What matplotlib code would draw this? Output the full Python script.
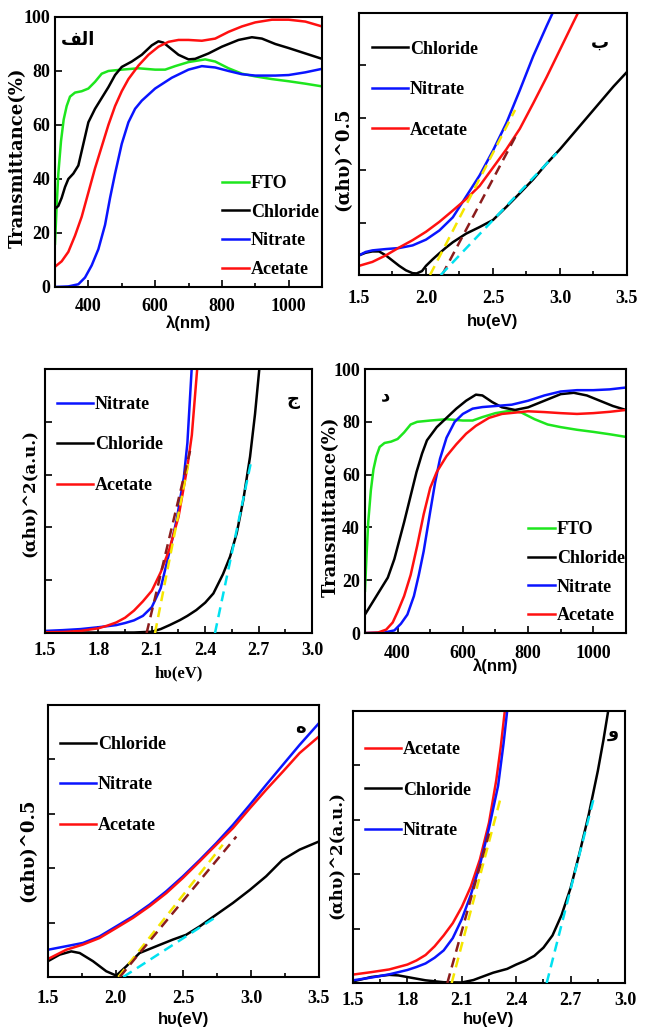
import matplotlib.pyplot as plt
import numpy as np
from matplotlib.ticker import MultipleLocator, NullFormatter

plt.rcParams['font.family'] = ['Liberation Serif', 'DejaVu Serif']
plt.rcParams['font.weight'] = 'bold'

# ---------------- transmittance panels (alef, dal) ----------------
fto_wl = [300, 305, 310, 318, 326, 335, 345, 360, 380, 400, 420, 440, 460, 500, 550, 600,
          630, 660, 700, 750, 780, 820, 860, 900, 950, 1000, 1050, 1100]
fto_t = [16, 30, 42, 54, 62, 67, 70.5, 72, 72.5, 73.5, 76, 79, 80, 80.5, 81, 80.5,
         80.5, 81.8, 83.3, 84.3, 83.5, 81, 79, 78, 77, 76.2, 75.3, 74.3]

a_cl_wl = [300, 310, 320, 330, 340, 355, 370, 385, 400, 420, 440, 460, 480, 500, 530, 560, 590,
           610, 625, 645, 670, 700, 720, 760, 800, 850, 890, 920, 960, 1000, 1050, 1100]
a_cl_t = [29, 30, 33, 37, 40, 42, 45, 53, 61, 66, 70, 74, 78.5, 81.5, 83.5, 86, 89.5,
          91, 90.5, 88.5, 86, 84.3, 84.5, 86.5, 89, 91.5, 92.5, 92, 90, 88.5, 86.5, 84.5]
a_ni_wl = [300, 340, 370, 390, 410, 430, 450, 465, 480, 500, 520, 540, 560, 600, 650, 700,
           740, 780, 820, 860, 900, 960, 1000, 1050, 1100]
a_ni_t = [0, 0.2, 1, 3.5, 8, 14, 23, 33, 42, 53, 61, 66, 69, 73.5, 77.5, 80.5,
          81.8, 81.3, 80, 78.8, 78.3, 78.3, 78.5, 79.5, 80.8]
a_ac_wl = [300, 320, 340, 360, 380, 400, 420, 440, 460, 480, 500, 520, 550, 580, 610, 640, 670,
           700, 740, 780, 820, 860, 900, 950, 1000, 1050, 1100]
a_ac_t = [7.5, 9.5, 13, 19, 26, 35, 44, 52, 60, 67, 72.5, 77, 82, 86, 89, 90.8, 91.5,
          91.5, 91.2, 92, 94.5, 96.5, 98, 99, 99, 98.3, 96.5]

d_cl_wl = [300, 320, 345, 370, 390, 405, 420, 440, 458, 475, 490, 520, 550, 580, 610, 640, 660,
           690, 720, 760, 800, 850, 900, 940, 980, 1020, 1060, 1100]
d_cl_t = [7, 11, 16, 21, 28, 35, 42, 52, 61, 68, 73, 78, 81.5, 85, 88, 90.3, 90,
          87.5, 85.5, 84.5, 85.5, 88, 90.5, 91, 90, 88, 86, 84.5]
d_ni_wl = [300, 360, 390, 410, 430, 450, 465, 480, 500, 515, 530, 550, 575, 600, 630, 660,
           700, 750, 800, 850, 900, 950, 1000, 1050, 1100]
d_ni_t = [0, 0.2, 1, 3.5, 7, 14, 22, 31, 46, 57, 66, 74, 80, 83, 85, 85.6,
          86, 86.5, 88, 90, 91.5, 92, 92, 92.3, 93]
d_ac_wl = [300, 340, 365, 385, 400, 420, 440, 460, 480, 500, 520, 550, 580, 610, 640, 680,
           720, 760, 800, 850, 900, 950, 1000, 1050, 1100]
d_ac_t = [0, 0.2, 1.3, 4, 8, 14, 22, 33, 45, 55, 61, 67, 71.5, 75.5, 78.5, 81.5,
          83, 83.5, 84, 83.7, 83.3, 83, 83.3, 83.8, 84.5]

# ---------------- (ahv)^0.5 panels (be, he) ----------------
b_cl_e = [1.5, 1.55, 1.6, 1.65, 1.7, 1.75, 1.8, 1.85, 1.9, 1.93, 1.97, 2.0, 2.05, 2.1, 2.15, 2.2,
          2.3, 2.4, 2.5, 2.6, 2.7, 2.8, 2.9, 3.0, 3.1, 3.2, 3.3, 3.4, 3.5]
b_cl_v = [7.5, 8.5, 9, 9, 7.5, 5.5, 3.5, 1.8, 0.7, 0.6, 1.5, 3.5, 6, 8.3, 10.5, 12.5,
          15.8, 18.3, 21, 26, 31.2, 36.5, 42.5, 48, 54, 60, 66, 72, 77.5]
b_ni_e = [1.5, 1.55, 1.6, 1.7, 1.8, 1.9, 2.0, 2.1, 2.2, 2.3, 2.4, 2.5, 2.6, 2.7, 2.8, 2.9, 2.945]
b_ni_v = [7.5, 8.8, 9.4, 9.9, 10.3, 11.3, 13.5, 17, 22, 30, 38, 47.5, 58, 70.5, 83.5, 95, 100]
b_ac_e = [1.5, 1.6, 1.7, 1.8, 1.9, 2.0, 2.1, 2.2, 2.3, 2.4, 2.5, 2.6, 2.7, 2.8, 2.9, 3.0, 3.1, 3.134]
b_ac_v = [3.5, 5, 7.5, 10.5, 13.3, 16.5, 20.3, 24.6, 29, 34, 41, 48, 55.8, 65.5, 75.5, 86, 96.5, 100]
b_fit_y = ([2.03, 2.665], [0, 63])
b_fit_r = ([2.12, 2.68], [0, 54])
b_fit_c = ([2.11, 2.975], [0, 46.5])

h_cl_e = [1.5, 1.586, 1.672, 1.734, 1.832, 1.93, 2.004, 2.078, 2.176, 2.3, 2.42, 2.52, 2.62,
          2.742, 2.865, 2.99, 3.11, 3.23, 3.357, 3.5]
h_cl_v = [5.8, 8.2, 9.4, 8.8, 5.8, 2.1, 0.5, 3.9, 8.8, 11.3, 13.7, 15.5, 18.6,
          22.9, 27.2, 32, 37, 43, 46.8, 49.8]
h_ni_e = [1.5, 1.635, 1.758, 1.88, 2.004, 2.127, 2.25, 2.373, 2.496, 2.62, 2.742, 2.865, 2.99,
          3.11, 3.234, 3.357, 3.5]
h_ni_v = [10, 11.3, 12.5, 14.9, 18.6, 22.3, 26.6, 31.5, 37, 43, 49.2, 55.9, 63.3,
          70.6, 78, 85.3, 93.3]
h_ac_e = h_ni_e
h_ac_v = [6.6, 10, 11.9, 14.3, 18, 21.7, 26, 30.8, 36.4, 42.5, 48.6, 54.7, 62,
          68.8, 75.5, 82.3, 88.4]
h_fit_y = ([2.02, 2.79], [0, 48.6])
h_fit_r = ([2.03, 2.89], [0, 51.6])
h_fit_c = ([2.056, 2.745], [0, 22.2])

# ---------------- (ahv)^2 panels (jim, vav) ----------------
j_ni_e = [1.5, 1.6, 1.7, 1.8, 1.9, 1.95, 2.0, 2.05, 2.1, 2.15, 2.2, 2.24, 2.28, 2.3, 2.324]
j_ni_v = [0.8, 1.1, 1.5, 2.2, 3, 3.8, 4.8, 6.5, 9.8, 17, 31, 43, 59, 72, 100]
j_cl_e = [1.5, 1.8, 2.0, 2.1, 2.15, 2.2, 2.258, 2.3, 2.35, 2.4, 2.446, 2.5, 2.54, 2.577, 2.614,
          2.652, 2.68, 2.704]
j_cl_v = [0.2, 0.2, 0.2, 0.5, 1.5, 3, 4.9, 6.5, 8.7, 11.5, 15, 22.3, 29, 37.8, 50.4,
          66.8, 83, 100]
j_ac_e = [1.5, 1.6, 1.7, 1.8, 1.85, 1.9, 1.95, 2.0, 2.05, 2.1, 2.15, 2.2, 2.25, 2.3, 2.325, 2.355]
j_ac_v = [0.3, 0.4, 0.8, 1.8, 2.8, 4, 5.8, 8.5, 12, 16, 23, 32, 44, 63, 75, 100]
j_fit_y = ([2.118, 2.305], [0, 64])
j_fit_r = ([2.071, 2.315], [0, 69])
j_fit_c = ([2.455, 2.655], [0, 64])

v_ac_e = [1.5, 1.6, 1.7, 1.8, 1.85, 1.9, 1.95, 2.0, 2.05, 2.1, 2.15, 2.2, 2.25, 2.29, 2.315, 2.337]
v_ac_v = [3.1, 4, 5, 6.8, 8.3, 10.3, 13.5, 17.5, 22, 28, 35.5, 45.5, 59, 74.6, 87, 100]
v_cl_e = [1.5, 1.6, 1.7, 1.75, 1.8, 1.9, 2.0, 2.1, 2.164, 2.2, 2.273, 2.35, 2.4, 2.45, 2.5, 2.55,
          2.6, 2.65, 2.7, 2.75, 2.8, 2.85, 2.88, 2.907]
v_cl_v = [0.6, 2.2, 3, 2.8, 2.2, 1, 0.3, 0.2, 1.1, 2, 3.8, 5.2, 6.8, 8.2, 10, 13,
          17.5, 25, 35, 48, 62, 78, 89, 100]
v_ni_e = [1.5, 1.6, 1.7, 1.8, 1.85, 1.9, 1.95, 2.0, 2.05, 2.1, 2.15, 2.2, 2.25, 2.3, 2.33, 2.35]
v_ni_v = [1, 2, 3.2, 4.8, 5.9, 7.2, 9.3, 12, 16.5, 23.5, 32.5, 43.5, 57, 72.5, 88, 100]
v_fit_y = ([2.044, 2.311], [0, 67.3])
v_fit_r = ([2.02, 2.25], [0, 55])
v_fit_c = ([2.568, 2.825], [0, 67.3])

GREEN, BLACK, BLUE, RED = '#1ee61e', 'black', '#0a14ff', '#ff1010'
YEL, BRN, CYA = '#f5e600', '#8b1c1c', '#00e1f0'
LW = 1.8
SERIF = 'Liberation Serif'
SANS = 'Liberation Sans'

fig = plt.figure(figsize=(6.5, 10.3), dpi=100)


def style(ax, xpad, ylabels=True):
    for s in ax.spines.values():
        s.set_linewidth(1.5)
    ax.tick_params(which='both', direction='in', top=False, right=False, width=1.2)
    ax.tick_params(which='major', length=5)
    ax.tick_params(which='minor', length=3)
    ax.tick_params(axis='x', pad=xpad, labelsize=13)
    ax.tick_params(axis='y', pad=3.5, labelsize=13)
    if not ylabels:
        ax.yaxis.set_major_formatter(NullFormatter())


def fits(ax, fy, fr, fc):
    ax.plot(fy[0], fy[1], color=YEL, lw=LW, ls=(0, (4, 2.5)), zorder=5)
    ax.plot(fr[0], fr[1], color=BRN, lw=LW, ls=(0, (4, 2.5)), zorder=5)
    ax.plot(fc[0], fc[1], color=CYA, lw=LW, ls=(0, (4, 2.5)), zorder=5)


def legend(ax, handles, x, y, hl, ls):
    ax.legend(handles=handles, loc='upper left', bbox_to_anchor=(x, y), frameon=False,
              fontsize=13, handlelength=hl, handletextpad=0.1, labelspacing=ls,
              borderpad=0, borderaxespad=0)


def arabic(ax, s, x, y):
    ax.text(x, y, s, transform=ax.transAxes, ha='center', va='center', fontsize=13,
            family=['DejaVu Sans'], fontweight='bold')


def trans_axes(rect, fto, cl, ni, ac, label, lab_xy, leg_xy, xpad, xlab_y):
    ax = fig.add_axes(rect)
    g, = ax.plot(fto_wl, fto_t, color=GREEN, lw=LW, label='FTO')
    k, = ax.plot(cl[0], cl[1], color=BLACK, lw=LW, label='Chloride')
    b, = ax.plot(ni[0], ni[1], color=BLUE, lw=LW, label='Nitrate')
    r, = ax.plot(ac[0], ac[1], color=RED, lw=LW, label='Acetate')
    ax.set_xlim(300, 1100)
    ax.set_ylim(0, 100)
    ax.xaxis.set_major_locator(MultipleLocator(200))
    ax.xaxis.set_minor_locator(MultipleLocator(100))
    ax.yaxis.set_major_locator(MultipleLocator(20))
    style(ax, xpad)
    ax.set_xlabel('λ(nm)', fontsize=12, family=SANS, fontweight='bold')
    ax.xaxis.set_label_coords(0.5, xlab_y)
    ax.set_ylabel('Transmittance(%)', fontsize=13, family='DejaVu Serif', fontweight='bold')
    ax.yaxis.set_label_coords(lab_xy[0], lab_xy[1])
    legend(ax, [g, k, b, r], leg_xy[0], leg_xy[1], 1.5, 0.65)
    arabic(ax, label[0], label[1], label[2])
    return ax


def band_axes(rect, curves, order, xmax, step, fit, ylab, ylab_size, lab_xy, leg, label,
              xpad, xlab_y, xfont=SANS):
    ax = fig.add_axes(rect)
    lines = {}
    for name, (e, v, c) in curves.items():
        lines[name], = ax.plot(e, v, color=c, lw=LW, label=name)
    fits(ax, *fit)
    ax.set_xlim(1.5, xmax)
    ax.set_ylim(0, 100)
    ax.xaxis.set_major_locator(MultipleLocator(step))
    ax.xaxis.set_minor_locator(MultipleLocator(step / 2))
    ax.yaxis.set_major_locator(MultipleLocator(20))
    style(ax, xpad, ylabels=False)
    ax.set_xlabel('hυ(eV)', fontsize=12, family=xfont, fontweight='bold')
    ax.xaxis.set_label_coords(0.5, xlab_y)
    ax.set_ylabel(ylab, fontsize=ylab_size, family='DejaVu Serif', fontweight='bold')
    ax.yaxis.set_label_coords(lab_xy[0], lab_xy[1])
    legend(ax, [lines[n] for n in order], leg[0], leg[1], 2.0, 1.3)
    arabic(ax, label[0], label[1], label[2])
    return ax


# alef
trans_axes([0.0846, 0.7214, 0.4108, 0.2621], fto_t, (a_cl_wl, a_cl_t), (a_ni_wl, a_ni_t),
           (a_ac_wl, a_ac_t), ('\ufed2\ufedf\ufe8d', 0.085, 0.915), (-0.105, 0.48),
           (0.625, 0.415), 8, -0.107)

# be
band_axes([0.5523, 0.733, 0.4123, 0.2544],
          {'Chloride': (b_cl_e, b_cl_v, BLACK), 'Nitrate': (b_ni_e, b_ni_v, BLUE),
           'Acetate': (b_ac_e, b_ac_v, RED)},
          ['Chloride', 'Nitrate', 'Acetate'], 3.5, 0.5, (b_fit_y, b_fit_r, b_fit_c),
          '(αhυ)^0.5', 13, (-0.026, 0.44), (0.049, 0.894), ('ب', 0.9, 0.885), 11, -0.149)

# jim
band_axes([0.0692, 0.3854, 0.4108, 0.2563],
          {'Nitrate': (j_ni_e, j_ni_v, BLUE), 'Chloride': (j_cl_e, j_cl_v, BLACK),
           'Acetate': (j_ac_e, j_ac_v, RED)},
          ['Nitrate', 'Chloride', 'Acetate'], 3.0, 0.3, (j_fit_y, j_fit_r, j_fit_c),
          '(αhυ)^2(a.u.)', 12, (-0.026, 0.53), (0.045, 0.898), ('ج', 0.929, 0.883), 6.5,
          -0.121, xfont=SERIF)

# dal
trans_axes([0.5615, 0.3854, 0.4015, 0.2563], fto_t, (d_cl_wl, d_cl_t), (d_ni_wl, d_ni_t),
           (d_ac_wl, d_ac_t), ('د', 0.077, 0.90), (-0.096, 0.477), (0.625, 0.424), 8.6, -0.098)

# he
band_axes([0.0738, 0.0515, 0.4169, 0.2641],
          {'Chloride': (h_cl_e, h_cl_v, BLACK), 'Nitrate': (h_ni_e, h_ni_v, BLUE),
           'Acetate': (h_ac_e, h_ac_v, RED)},
          ['Chloride', 'Nitrate', 'Acetate'], 3.5, 0.5, (h_fit_y, h_fit_r, h_fit_c),
          '(αhυ)^0.5', 13, (-0.04, 0.467), (0.044, 0.886), ('ه', 0.93, 0.915), 9.4, -0.129)

# vav
band_axes([0.5431, 0.0456, 0.4185, 0.2641],
          {'Acetate': (v_ac_e, v_ac_v, RED), 'Chloride': (v_cl_e, v_cl_v, BLACK),
           'Nitrate': (v_ni_e, v_ni_v, BLUE)},
          ['Acetate', 'Chloride', 'Nitrate'], 3.0, 0.3, (v_fit_y, v_fit_r, v_fit_c),
          '(αhυ)^2(a.u.)', 12, (-0.03, 0.47), (0.044, 0.889), ('و', 0.956, 0.923), 6.5, -0.107)

plt.savefig('out.png', dpi=100)
